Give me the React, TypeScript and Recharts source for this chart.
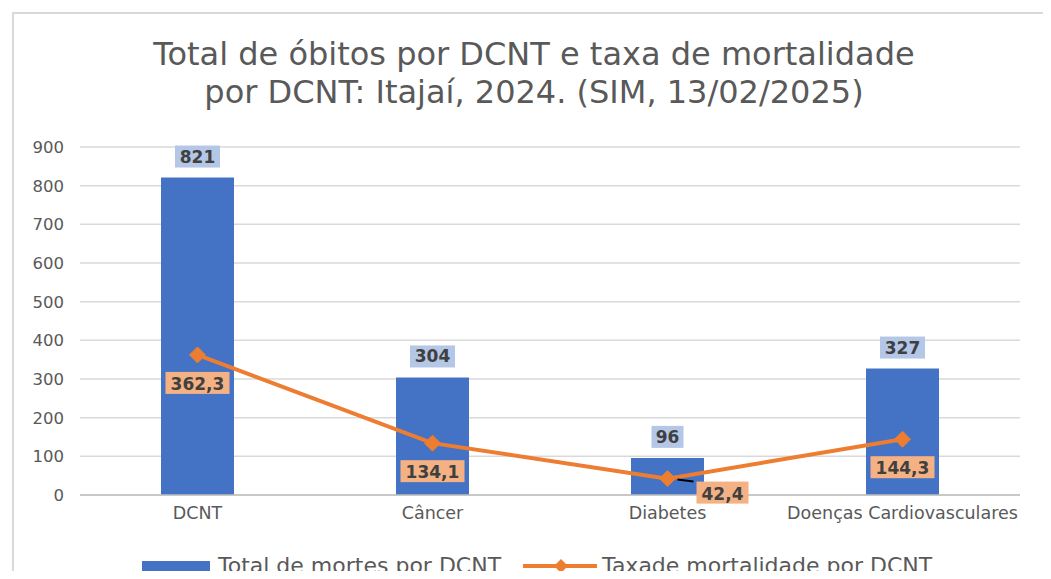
import React from "react";
import { ComposedChart, Bar, Line, XAxis, YAxis, CartesianGrid, Legend, LabelList } from "recharts";

const FONT = "'DejaVu Sans', sans-serif";
const BLUE = "#4472C4";
const ORANGE = "#ED7D31";
const TEXT = "#595959";

const categories = ["DCNT", "Câncer", "Diabetes", "Doenças Cardiovasculares"];
const totalMortes = [821, 304, 96, 327];
const taxaMortalidade = [362.3, 134.1, 42.4, 144.3];
const yTicks = [0, 100, 200, 300, 400, 500, 600, 700, 800, 900];

const data = categories.map((c, i) => ({ cat: c, total: totalMortes[i], taxa: taxaMortalidade[i] }));

const fmt = (v: number) => v.toFixed(1).replace(".", ",");

// rótulo das barras: fundo azul claro, acima da barra
const BarLabel = (p: any) => {
  const { x, y, width, value } = p;
  const cx = x + width / 2;
  const w = String(value).length * 13 + 6;
  return (
    <g>
      <rect x={cx - w / 2} y={y - 32} width={w} height={22} fill="#B4C7E7" />
      <text x={cx} y={y - 15} textAnchor="middle" fontFamily={FONT} fontSize={17} fontWeight="bold" fill="#404040">
        {value}
      </text>
    </g>
  );
};

// rótulo da linha: fundo laranja claro, abaixo do ponto
const LineLabel = (p: any) => {
  const { x, y, value, index } = p;
  const txt = fmt(value);
  const w = txt.length * 12 + 4;
  const shifted = index === 2;
  const cx = shifted ? x + 55 : x;
  const cy = shifted ? y + 3 : y + 17;
  return (
    <g>
      {shifted && <line x1={x + 10} y1={y + 1} x2={x + 26} y2={y + 3} stroke="#000" strokeWidth={2} />}
      <rect x={cx - w / 2} y={cy} width={w} height={22} fill="#F4B183" />
      <text x={cx} y={cy + 18} textAnchor="middle" fontFamily={FONT} fontSize={17} fontWeight="bold" fill="#404040">
        {txt}
      </text>
    </g>
  );
};

const Diamond = (p: any) => {
  const { cx, cy } = p;
  if (cx == null) return null;
  const s = 8;
  return <path d={`M${cx},${cy - s}L${cx + s},${cy}L${cx},${cy + s}L${cx - s},${cy}Z`} fill={ORANGE} stroke={ORANGE} />;
};

const LegendContent = () => (
  <div style={{ display: "flex", justifyContent: "flex-start", alignItems: "center", fontFamily: FONT, fontSize: 22, color: TEXT, paddingLeft: 142, whiteSpace: "nowrap" }}>
    <svg width={68} height={14} style={{ marginRight: 8 }}>
      <rect x={0} y={2} width={68} height={11} fill={BLUE} />
    </svg>
    <span style={{ marginRight: 22 }}>Total de mortes por DCNT</span>
    <svg width={74} height={18} style={{ marginRight: 5 }}>
      <line x1={0} y1={9} x2={74} y2={9} stroke={ORANGE} strokeWidth={4} />
      <path d="M38,2L45,9L38,16L31,9Z" fill={ORANGE} />
    </svg>
    <span>Taxade mortalidade por DCNT</span>
  </div>
);

export default function App() {
  return (
    <div style={{ position: "relative", width: 1051, height: 579, margin: -8, background: "#fff", overflow: "hidden" }}>
      <div style={{ position: "absolute", left: 12, top: 12, width: 1100, height: 600, borderLeft: "2px solid #D9D9D9", borderTop: "2px solid #D9D9D9" }} />
      <div style={{ position: "absolute", left: 0, width: 1068, top: 35, textAlign: "center", fontFamily: FONT, fontSize: 32, lineHeight: "38px", color: TEXT }}>
        Total de óbitos por DCNT e taxa de mortalidade
        <br />
        por DCNT: Itajaí, 2024. (SIM, 13/02/2025)
      </div>
      <div style={{ position: "absolute", left: 0, top: 0 }}>
        <ComposedChart width={1051} height={579} data={data} margin={{ top: 147, right: 31, left: 0, bottom: 20 }} barCategoryGap="34%">
          <CartesianGrid stroke="#D9D9D9" strokeWidth={1.5} vertical={false} />
          <XAxis dataKey="cat" interval={0} tickLine={false} axisLine={{ stroke: "#BFBFBF", strokeWidth: 1.5 }} height={34}
            tick={{ fontFamily: FONT, fontSize: 17.5, fill: TEXT }} tickMargin={6} />
          <YAxis domain={[0, 900]} ticks={yTicks} width={80} tickLine={false} axisLine={false}
            tick={{ fontFamily: FONT, fontSize: 16.5, fill: TEXT }} tickMargin={10} />
          <Legend verticalAlign="bottom" height={30} content={<LegendContent />} wrapperStyle={{ top: 553, bottom: "auto" }} />
          <Bar dataKey="total" name="Total de mortes por DCNT" fill={BLUE} barSize={73} isAnimationActive={false}>
            <LabelList dataKey="total" content={<BarLabel />} />
          </Bar>
          <Line dataKey="taxa" name="Taxade mortalidade por DCNT" type="linear" stroke={ORANGE} strokeWidth={4}
            dot={<Diamond />} activeDot={false} isAnimationActive={false}>
            <LabelList dataKey="taxa" content={<LineLabel />} />
          </Line>
        </ComposedChart>
      </div>
    </div>
  );
}
